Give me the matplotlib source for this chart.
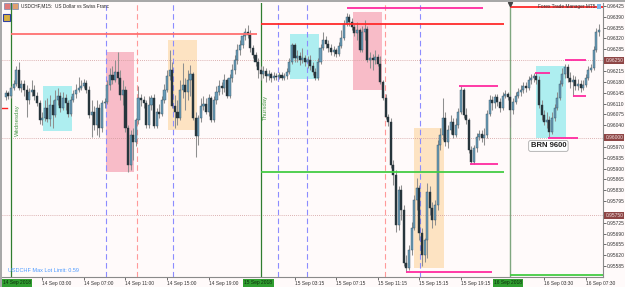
import matplotlib
matplotlib.use('Agg')
import matplotlib.pyplot as plt
import matplotlib.transforms as mtransforms
from matplotlib.patches import Rectangle
import numpy as np

plt.rcParams['font.family'] = ['Liberation Sans', 'DejaVu Sans']

# USDCHF M15 candles, prices in points (1e-5)
first_open = 96131
close_pts = [
    96144, 96134, 96160, 96173, 96218, 96160, 96173, 96153, 96121, 96147,
    96153, 96134, 96111, 96056, 96063, 96095, 96060, 96105, 96073, 96121,
    96134, 96095, 96127, 96111, 96076, 96121, 96140, 96153, 96160, 96166,
    96176, 96153, 96073, 96082, 96040, 96095, 96031, 96111, 96115, 96169,
    96202, 96186, 96211, 96192, 96137, 96153, 96031, 95911, 96008, 95985,
    96056, 96127, 96121, 96111, 96040, 96105, 96127, 96037, 96082, 96076,
    96121, 96153, 96198, 96218, 96102, 96082, 96063, 96153, 96169, 96147,
    96186, 96205, 96063, 96005, 96063, 96102, 96108, 96082, 96127, 96056,
    96121, 96147, 96166, 96160, 96186, 96134, 96192, 96218, 96250, 96282,
    96298, 96328, 96340, 96331, 96289, 96266, 96244, 96218, 96205, 96215,
    96198, 96205, 96192, 96198, 96195, 96202, 96192, 96198, 96211, 96244,
    96298, 96256, 96263, 96250, 96256, 96244, 96250, 96231, 96211, 96192,
    96244, 96289, 96315, 96302, 96289, 96276, 96282, 96269, 96295, 96321,
    96366, 96389, 96373, 96357, 96337, 96347, 96282, 96340, 96350, 96250,
    96256, 96250, 96260, 96237, 96179, 96127, 96066, 96050, 95911, 95879,
    95718, 95831, 95766, 95595, 95579, 95637, 95708, 95798, 95837, 95692,
    95621, 95669, 95824, 95773, 95734, 95782, 95976, 96008, 96063, 95985,
    96024, 96050, 96008, 96040, 96082, 96153, 96073, 96056, 95960, 95921,
    95966, 96002, 96011, 95998, 96008, 96076, 96121, 96111, 96131, 96115,
    96095, 96134, 96140, 96131, 96089, 96115, 96134, 96147, 96153, 96166,
    96160, 96186, 96192, 96198, 96186, 96105, 96073, 96050, 96056, 96018,
    96063, 96095, 96127, 96173, 96205, 96227, 96192, 96179, 96186, 96166,
    96173, 96160, 96169, 96192, 96218, 96224, 96282, 96340, 96347,
]
high_pts = [
    96153, 96150, 96166, 96186, 96231, 96244, 96186, 96186, 96169, 96160,
    96186, 96169, 96147, 96121, 96082, 96121, 96127, 96137, 96121, 96153,
    96160, 96147, 96147, 96140, 96121, 96134, 96153, 96173, 96195, 96186,
    96189, 96186, 96166, 96121, 96102, 96121, 96108, 96121, 96127, 96186,
    96224, 96231, 96250, 96276, 96218, 96186, 96166, 96040, 96024, 96031,
    96063, 96166, 96140, 96134, 96121, 96134, 96137, 96140, 96095, 96108,
    96134, 96173, 96218, 96282, 96244, 96137, 96121, 96186, 96240, 96192,
    96218, 96234, 96211, 96082, 96073, 96127, 96134, 96127, 96140, 96134,
    96134, 96166, 96186, 96179, 96205, 96192, 96205, 96237, 96266, 96302,
    96315, 96337, 96353, 96363, 96347, 96298, 96276, 96256, 96231, 96231,
    96224, 96218, 96211, 96211, 96208, 96211, 96211, 96208, 96224, 96256,
    96305, 96305, 96282, 96276, 96289, 96266, 96263, 96266, 96244, 96224,
    96256, 96302, 96340, 96328, 96315, 96302, 96295, 96289, 96308, 96347,
    96379, 96402, 96398, 96386, 96366, 96373, 96353, 96360, 96379, 96360,
    96276, 96269, 96282, 96269, 96263, 96186, 96140, 96076, 96063, 95927,
    95895, 95844, 95847, 95782, 95621, 95653, 95727, 95815, 95869, 95847,
    95708, 95676, 95853, 95844, 95792, 95798, 95992, 96031, 96127, 96082,
    96040, 96073, 96063, 96063, 96095, 96166, 96160, 96095, 96063, 95973,
    95976, 96015, 96024, 96024, 96031, 96089, 96137, 96134, 96140, 96140,
    96127, 96147, 96153, 96147, 96137, 96127, 96147, 96160, 96169, 96179,
    96179, 96198, 96205, 96208, 96211, 96198, 96121, 96089, 96082, 96069,
    96082, 96108, 96147, 96186, 96224, 96237, 96237, 96211, 96202, 96198,
    96189, 96186, 96186, 96205, 96231, 96237, 96295, 96353, 96366,
]
low_pts = [
    96121, 96124, 96127, 96153, 96166, 96153, 96147, 96134, 96066, 96108,
    96134, 96121, 96102, 96044, 96040, 96053, 96050, 96037, 96031, 96066,
    96105, 96082, 96089, 96089, 96066, 96069, 96115, 96127, 96147, 96153,
    96160, 96144, 96063, 96002, 96024, 96008, 96002, 96018, 96095, 96108,
    96153, 96173, 96179, 96173, 96121, 96105, 96018, 95889, 95895, 95927,
    95973, 96044, 96102, 96095, 96031, 96031, 96089, 96031, 96031, 96063,
    96069, 96111, 96147, 96186, 96095, 96031, 96040, 96056, 96127, 96089,
    96121, 96134, 96056, 95937, 95976, 96050, 96089, 96076, 96069, 96050,
    96050, 96108, 96137, 96140, 96147, 96127, 96127, 96179, 96205, 96237,
    96266, 96289, 96315, 96321, 96276, 96256, 96231, 96192, 96186, 96192,
    96179, 96186, 96179, 96186, 96186, 96189, 96186, 96186, 96189, 96205,
    96237, 96244, 96244, 96234, 96240, 96231, 96224, 96218, 96202, 96186,
    96186, 96237, 96282, 96289, 96276, 96266, 96263, 96260, 96263, 96289,
    96315, 96360, 96360, 96347, 96328, 96315, 96276, 96276, 96315, 96244,
    96224, 96218, 96237, 96231, 96173, 96121, 96060, 96037, 95902, 95847,
    95695, 95702, 95734, 95585, 95566, 95573, 95621, 95702, 95766, 95669,
    95585, 95598, 95611, 95750, 95708, 95718, 95766, 95960, 95992, 95973,
    95966, 96011, 95998, 96002, 96031, 96076, 96063, 96044, 95950, 95915,
    95915, 95953, 95992, 95985, 95976, 95998, 96069, 96089, 96095, 96102,
    96082, 96089, 96127, 96121, 96034, 96076, 96108, 96127, 96134, 96144,
    96147, 96153, 96173, 96179, 96173, 96095, 96056, 96040, 96031, 96002,
    96011, 96053, 96089, 96121, 96166, 96192, 96179, 96160, 96134, 96153,
    96153, 96147, 96153, 96163, 96186, 96211, 96218, 96276, 96328,
]

# chart objects (bar index ranges, prices)
day_bars = [2, 98, 194]
blue_vlines = [38.5, 64.2, 104.5, 115.7, 159.1]
red_vlines = [50.4, 145.6]
round_levels = [0.96250, 0.96000, 0.95750]
zones = [  # start, end, top, bottom, kind
    (14.3, 25.4, 0.96166, 0.96021, 'cyan'),
    (38.5, 49.2, 0.96276, 0.95889, 'pink'),
    (62.3, 73.4, 0.96315, 0.96024, 'orange'),
    (109.1, 120.3, 0.96334, 0.96189, 'cyan'),
    (133.3, 144.5, 0.96405, 0.96153, 'pink'),
    (157.1, 168.3, 0.96031, 0.95579, 'orange'),
    (204.0, 215.5, 0.96231, 0.95998, 'cyan'),
]
red_lines = [(2, 96.5, 0.96334, '#ff7070'), (98, 191.7, 0.96366, '#ff2a2a'),
             (194, 229.6, 0.96421, '#ff2a2a')]
magenta_lines = [(131, 183.3, 0.96418), (174.4, 189.4, 0.96166), (178.6, 189.4, 0.95915),
                 (154, 187, 0.95566), (203.6, 209.4, 0.96208), (215.1, 223.2, 0.96250),
                 (218.2, 223.2, 0.96134), (208.6, 220.1, 0.95998)]
green_lines = [(98, 191.7, 0.95889), (194, 229.6, 0.95556)]

tick_pos = [14, 30, 46, 62, 78, 111, 127, 143, 159, 175, 207, 223]
tick_text = ['14 Sep 03:00', '14 Sep 07:00', '14 Sep 11:00', '14 Sep 15:00', '14 Sep 19:00',
             '15 Sep 03:15', '15 Sep 07:15', '15 Sep 11:15', '15 Sep 15:15', '15 Sep 19:15',
             '16 Sep 03:30', '16 Sep 07:30']
day_text = ['14 Sep 2018', '15 Sep 2018', '16 Sep 2018']

W, H = 625, 287
BG = '#fffafa'
FS = 3.5
zone_colors = {'cyan': '#aeeef0', 'pink': '#f8bcc8', 'orange': '#fde3c2'}

fig = plt.figure(figsize=(W / 100, H / 100), dpi=100, facecolor=BG)
ax = fig.add_axes([2 / W, 10 / H, 601 / W, 274.5 / H])
ax.set_facecolor(BG)

closes = np.array(close_pts) / 1e5
highs = np.array(high_pts) / 1e5
lows = np.array(low_pts) / 1e5
opens = np.array([first_open] + close_pts[:-1]) / 1e5
idx = np.arange(len(closes))

ax.set_xlim(-1.47, 229.6)
ax.set_ylim(0.95550, 0.96436)

for x0, x1, top, bot, kind in zones:
    ax.add_patch(Rectangle((x0, bot), x1 - x0, top - bot, facecolor=zone_colors[kind],
                           edgecolor='none', zorder=1))

for lv in round_levels:
    ax.axhline(lv, color='#d09a9a', lw=0.6, ls=(0, (1, 1.5)), zorder=2)

for x in blue_vlines:
    ax.axvline(x, color='#8c8cff', lw=0.8, ls=(0, (5, 3)), zorder=2)
for x in red_vlines:
    ax.axvline(x, color='#ff9a9a', lw=0.8, ls=(0, (5, 3)), zorder=2)
ax.axvline(day_bars[0], color='#2f7d2f', lw=0.9, zorder=2)
ax.axvline(day_bars[1], color='#2f7d2f', lw=0.9, zorder=2)
ax.axvline(day_bars[2], color='#7fa67f', lw=1.0, zorder=2)
ax.plot([day_bars[2]], [0.96432], marker='v', ms=3, color='#444444', zorder=6, clip_on=False)

for x0, x1, lv, c in red_lines:
    ax.hlines(lv, x0, x1, color=c, lw=1.3, zorder=5)
for x0, x1, lv in magenta_lines:
    ax.hlines(lv, x0, x1, color='#ff2aa0', lw=1.3, zorder=5)
for x0, x1, lv in green_lines:
    ax.hlines(lv, x0, x1, color='#44cc44', lw=1.3, zorder=5)

# candles
up = closes >= opens
ax.vlines(idx, lows, highs, color='#8f8f8f', lw=0.75, zorder=3)
body_bot = np.minimum(opens, closes)
body_h = np.maximum(np.abs(closes - opens), 0.000015)
ax.bar(idx[up], body_h[up], bottom=body_bot[up], width=0.8, color='#6a9cb8',
       edgecolor='#35505e', lw=0.3, zorder=4)
ax.bar(idx[~up], body_h[~up], bottom=body_bot[~up], width=0.8, color='#27353c',
       edgecolor='#27353c', lw=0.3, zorder=4)

# axes
for s in ['left', 'top']:
    ax.spines[s].set_visible(False)
ax.spines['right'].set_color('#8a8a8a')
ax.spines['bottom'].set_color('#8a8a8a')
ax.spines['right'].set_linewidth(0.8)
ax.spines['bottom'].set_linewidth(0.8)

yt = [round(0.96425 - 0.00035 * k, 5) for k in range(25) if k not in (5, 12, 19)]
ax.yaxis.tick_right()
ax.set_yticks(yt)
ax.set_yticklabels(['%.5f' % v for v in yt])
ax.tick_params(axis='y', length=2, width=0.5, pad=0.8, labelsize=FS, colors='#333333')
ax.set_xticks(tick_pos)
ax.set_xticklabels(tick_text)
ax.tick_params(axis='x', length=2, width=0.5, pad=1, labelsize=FS, colors='#333333')
for lab in ax.get_xticklabels():
    lab.set_ha('left')

trans_y = mtransforms.blended_transform_factory(ax.transAxes, ax.transData)
for lv in round_levels:
    ax.text(1.004, lv, '%.5f' % lv, transform=trans_y, fontsize=FS, color='#f2e2e2',
            va='center', ha='left',
            bbox=dict(boxstyle='square,pad=0.2', fc='#8e4545', ec='none'))

trans_x = mtransforms.blended_transform_factory(ax.transData, ax.transAxes)
day_x = [-1.0, day_bars[1] - 6.3, day_bars[2] - 6.3]
for x, t in zip(day_x, day_text):
    ax.text(x, -0.012, t, transform=trans_x, fontsize=FS, color='#0d2a0d', va='top',
            ha='left', bbox=dict(boxstyle='square,pad=0.25', fc='#2f9e2f', ec='none'))

# labels on the chart
ax.text(4.3, 0.96056, 'Wednesday', rotation=90, fontsize=4.3, color='#4c9a4c',
        ha='center', va='center', zorder=6)
ax.text(99.9, 0.96098, 'Thursday', rotation=90, fontsize=4.3, color='#4c9a4c',
        ha='center', va='center', zorder=6)
ax.text(208.6, 0.95973, 'BRN 9600', fontsize=5.5, fontweight='bold', color='#222222',
        ha='center', va='center', zorder=7,
        bbox=dict(boxstyle='round,pad=0.25', fc='white', ec='#aaaaaa', lw=0.6))
ax.text(0.01, 0.022, 'USDCHF Max Lot Limit: 0.59', transform=ax.transAxes, fontsize=4.0,
        color='#4d9bff', ha='left', va='center', zorder=7)

fig.text(21 / W, 1 - 6 / H, 'USDCHF,M15:  US Dollar vs Swiss Franc', fontsize=3.4,
         color='#222222', ha='left', va='center')
fig.text(595 / W, 1 - 6.5 / H, 'Forex Trade Manager MT5', fontsize=3.4, color='#333333',
         ha='right', va='center')

# window frame bits and small icons
fig.patches.append(Rectangle((0, 0), 2 / W, 1, transform=fig.transFigure,
                             fc='#a8a8a8', ec='none'))
fig.patches.append(Rectangle((0, 1 - 2 / H), 1, 2 / H, transform=fig.transFigure,
                             fc='#a8a8a8', ec='none'))
fig.patches.append(Rectangle((4 / W, 1 - 9 / H), 6 / W, 6 / H, transform=fig.transFigure,
                             fc='#e07a7a', ec='#5a7ab0', lw=0.4))
fig.patches.append(Rectangle((12 / W, 1 - 9 / H), 6 / W, 6 / H, transform=fig.transFigure,
                             fc='#e0a070', ec='#5a7ab0', lw=0.4))
fig.patches.append(Rectangle((3 / W, 1 - 21 / H), 7 / W, 7 / H, transform=fig.transFigure,
                             fc='#d8b040', ec='#3040a0', lw=0.8))
fig.patches.append(Rectangle((597 / W, 1 - 9 / H), 4 / W, 5 / H, transform=fig.transFigure,
                             fc='#7ab8ea', ec='none'))
ax.plot([-1.4, 0.5], [0.96095, 0.96095], color='#ff2020', lw=1.0, zorder=6, clip_on=False)

fig.savefig('out.png', dpi=100, facecolor=BG)
